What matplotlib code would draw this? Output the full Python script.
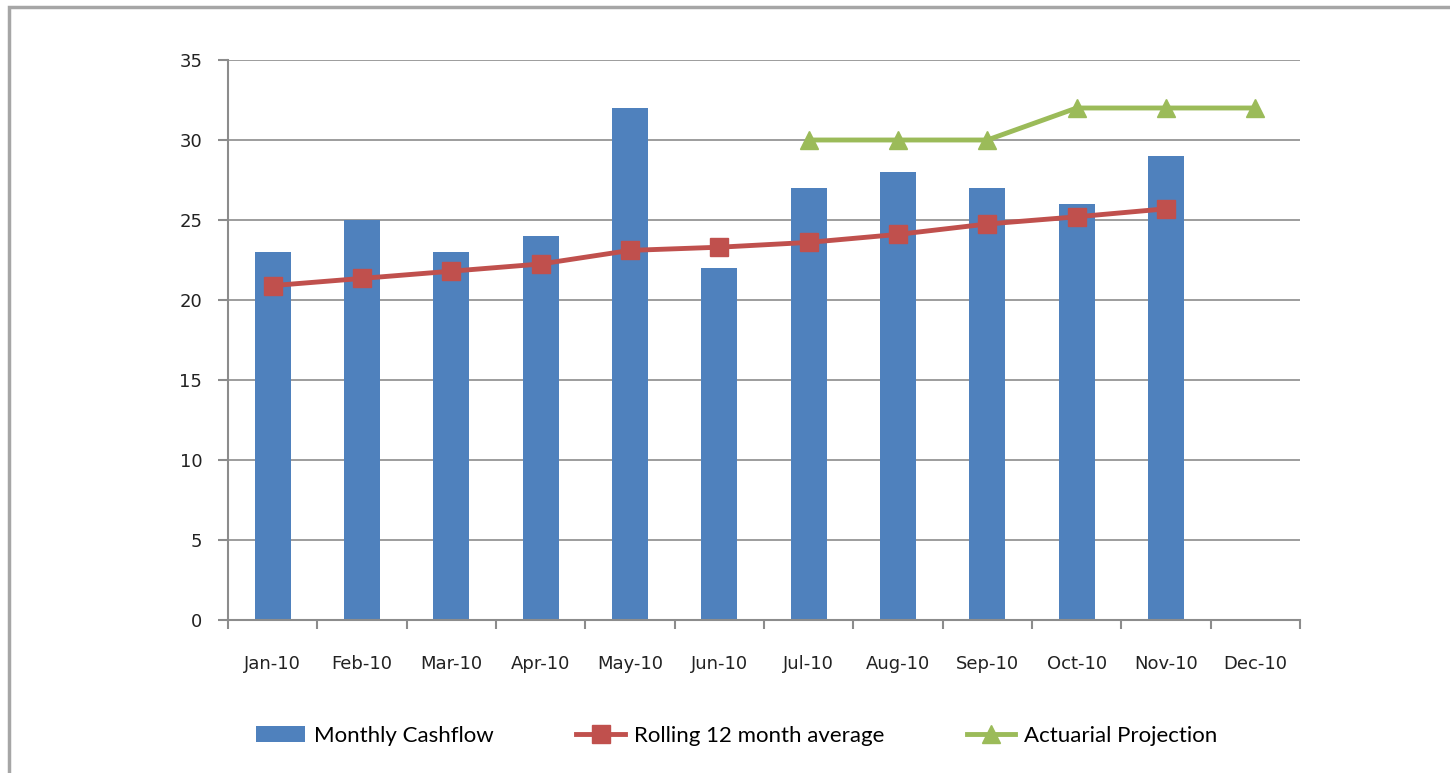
import numpy as np
import matplotlib
matplotlib.use("Agg")
import matplotlib.pyplot as plt
from matplotlib.patches import Rectangle

months = ["Jan-10", "Feb-10", "Mar-10", "Apr-10", "May-10", "Jun-10",
          "Jul-10", "Aug-10", "Sep-10", "Oct-10", "Nov-10", "Dec-10"]
cashflow = [23, 25, 23, 24, 32, 22, 27, 28, 27, 26, 29, np.nan]
rolling = [20.9, 21.35, 21.8, 22.25, 23.1, 23.3, 23.6, 24.1, 24.75, 25.2, 25.7, np.nan]
projection = [np.nan] * 6 + [30, 30, 30, 32, 32, 32]

blue = "#4F81BD"
red = "#C0504D"
green = "#9BBB59"
grid = "#8C8C8C"

plt.rcParams['font.family'] = ['DejaVu Sans']
fig = plt.figure(figsize=(14.5, 7.73), dpi=100)
W, H = 1450, 773
ax = fig.add_axes([228 / W, 1 - 620 / H, (1300 - 228) / W, (620 - 60) / H])

x = np.arange(len(months))
bars = ax.bar(x, cashflow, width=0.4, color=blue, label="Monthly Cashflow", zorder=2)
l1, = ax.plot(x, rolling, color=red, lw=3.5, marker="s", ms=13, label="Rolling 12 month average", zorder=3)
l2, = ax.plot(x, projection, color=green, lw=3.5, marker="^", ms=13, label="Actuarial Projection", zorder=3)

ax.set_xlim(-0.5, 11.5)
ax.set_ylim(0, 35)
ax.set_yticks(range(0, 36, 5))
ax.yaxis.grid(True, color=grid, lw=1.2)
ax.set_axisbelow(True)
ax.set_xticks(x)
ax.set_xticklabels(months)
ax.set_xticks(np.arange(-0.5, 12, 1), minor=True)
ax.tick_params(axis="x", which="major", length=0, pad=25, labelsize=13, labelcolor="#222222")
ax.tick_params(axis="x", which="minor", length=6.5, width=1.5, color=grid, direction="out")
ax.tick_params(axis="y", length=7, width=1.5, color=grid, pad=11.5, labelsize=13, labelcolor="#222222")
for s in ["top", "right"]:
    ax.spines[s].set_visible(False)
for s in ["left", "bottom"]:
    ax.spines[s].set_color(grid)
    ax.spines[s].set_linewidth(1.5)

leg = fig.legend([bars, l1, l2], ["Monthly Cashflow", "Rolling 12 month average", "Actuarial Projection"],
                 loc="center", bbox_to_anchor=(737 / W, 1 - 736 / H), ncol=3, frameon=False,
                 prop={"family": "Lato", "size": 16}, handlelength=2.2, columnspacing=3.7,
                 handletextpad=0.4, handleheight=0.75)

# outer chart border
fig.patches.append(Rectangle((8.5 / W, -0.1), 1.2, 1.1 - 7.5 / H, transform=fig.transFigure,
                             fill=False, edgecolor="#A6A6A6", lw=2.5))

fig.savefig("out.png", dpi=100)
